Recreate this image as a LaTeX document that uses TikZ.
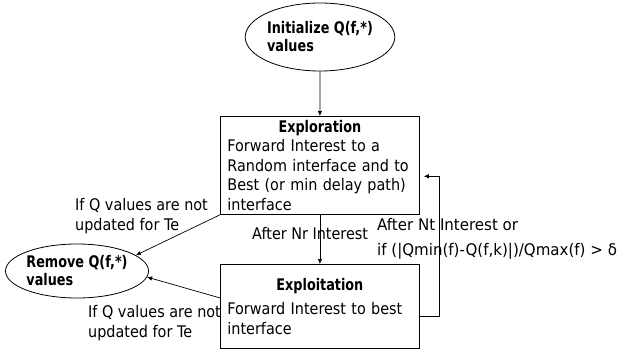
\documentclass[tikz,border=0pt]{standalone}
\usepackage{fontspec}
\setmainfont{DejaVu Sans}[FakeStretch=0.9]
\newfontfamily\bfam{DejaVu Sans}[FakeStretch=0.8]
\newfontfamily\widefam{DejaVu Sans}[FakeStretch=0.94]
\usetikzlibrary{arrows.meta,shapes.geometric,calc}
\newcommand{\boxtitle}[1]{\makebox[185pt][c]{\bfam\bfseries #1}}
\begin{document}
\begin{tikzpicture}[x=1pt,y=-1pt,
  font=\fontsize{16}{19.5}\selectfont,
  conn/.style={draw, line width=0.7pt, -{Latex[length=5pt,width=4.5pt]}},
  boxnode/.style={draw, line width=0.8pt, rectangle, anchor=north west,
    minimum width=199pt, text width=185pt, align=left, inner xsep=7pt, inner ysep=0pt},
  ellnode/.style={draw, ellipse, line width=0.8pt, inner sep=0pt, align=left,
    font=\bfam\bfseries\fontsize{16}{18}\selectfont},
  lbl/.style={align=left, anchor=west, inner sep=0pt},
  widelbl/.style={lbl, font=\widefam\fontsize{16}{19.5}\selectfont}]
\useasboundingbox (0,0) rectangle (619,354);
% nodes
\node[ellnode, minimum width=130pt, minimum height=68pt] (init) at (320,37) {Initialize Q(f,*)\\values};
\node[boxnode, minimum height=98pt] (explore) at (220,116)
  {\boxtitle{Exploration}\\Forward Interest to a\\Random interface and to\\Best (or min delay path)\\interface};
\node[boxnode, minimum height=84pt] (exploit) at (220,264)
  {\boxtitle{Exploitation}\\[5pt]Forward Interest to best\\interface};
\node[ellnode, minimum width=140pt, minimum height=54pt] (remove) at (77,271) {Remove Q(f,*)\\values};
% labels
\node[lbl] (lq1) at (75,216) {If Q values are not\\updated for Te};
\node[lbl] (lq2) at (88,323) {If Q values are not\\updated for Te};
\node[lbl] (lnr) at (252,234) {After Nr Interest};
\node[widelbl] (lnt) at (377,225) {After Nt Interest or};
\node[widelbl] (ldelta) at (377,251) {if (|Qmin(f)-Q(f,k)|)/Qmax(f) > δ};
% connectors
\draw[conn] (init.south) -- (explore.north);
\draw[conn] (explore.south) -- (exploit.north);
\draw[conn] (explore.south west) -- (remove.15);
\coordinate (lowstart) at ($(exploit.north west)!0.4!(exploit.south west)$);
\draw[conn] (lowstart) -- (remove.-5);
\coordinate (fbs) at ($(exploit.north east)!0.62!(exploit.south east)$);
\coordinate (fbe) at ($(explore.north east)!0.61!(explore.south east)$);
\draw[conn, shorten >=4pt] (fbs) -- ++(20,0) |- (fbe);
\end{tikzpicture}
\end{document}
